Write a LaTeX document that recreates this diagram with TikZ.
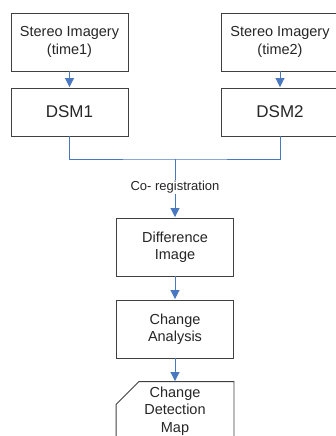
\documentclass[tikz,border=0pt]{standalone}
\usepackage{fontspec}
\setmainfont{Liberation Sans}
\usetikzlibrary{arrows.meta}
\definecolor{boxline}{HTML}{404040}
\definecolor{flowblue}{HTML}{4A78C0}
\definecolor{txt}{HTML}{262626}
\tikzset{
  box/.style={draw=boxline, line width=0.9pt, fill=white, minimum width=117pt, minimum height=58pt,
    align=center, inner sep=0pt, font=\fontsize{14.5}{17.5}\selectfont, text=txt},
  dsmbox/.style={box, minimum height=48pt, font=\fontsize{17}{20}\selectfont},
  flow/.style={draw=flowblue, line width=0.9pt},
  flowarrow/.style={flow, -{Triangle[length=9pt,width=9pt]}, shorten >=0.5pt},
  lbl/.style={fill=white, inner sep=1pt, font=\fontsize{13}{15}\selectfont, text=txt}
}
\begin{document}
\begin{tikzpicture}[x=1pt,y=-1pt]
\useasboundingbox (0,0) rectangle (336,436);
\clip (0,0) rectangle (336,436);
\node[box] (s1) at (69.5,42) {Stereo Imagery\\(time1)};
\node[box] (s2) at (280,42) {Stereo Imagery\\(time2)};
\node[dsmbox] (d1) at (69.5,112) {DSM1};
\node[dsmbox] (d2) at (280,112) {DSM2};
\node[box] (diff) at (175,247) {Difference\\Image};
\node[box] (ana) at (175,329) {Change\\Analysis};
\node[box, draw=none, fill=none] (card) at (175,411) {Change\\Detection\\Map};
\draw[boxline, line width=0.9pt] ([xshift=23pt]card.north west) -- (card.north east) -- (card.south east)
  -- (card.south west) -- ([yshift=-23pt]card.north west) -- cycle;
\coordinate (j) at (175,159);
\draw[flowarrow] (s1) -- (d1);
\draw[flowarrow] (s2) -- (d2);
\draw[flow] (d1.south) |- (j) -| (d2.south);
\draw[flowarrow] (j) -- (diff.north);
\node[lbl] (reg) at (175,187) {Co- registration};
\draw[flowarrow] (diff) -- (ana);
\draw[flowarrow] (ana) -- (card.north);
\end{tikzpicture}
\end{document}
